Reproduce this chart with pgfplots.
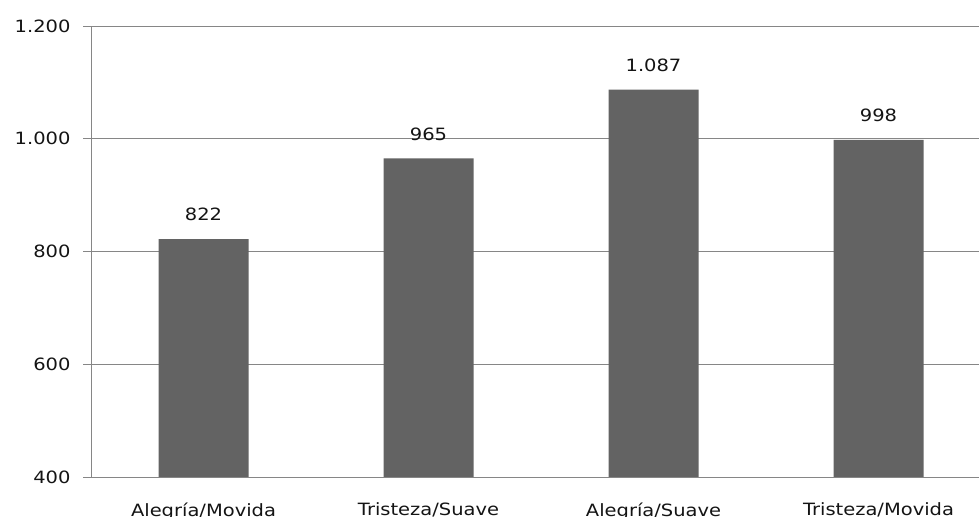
\documentclass[border=0pt]{standalone}
\usepackage{fontspec}
\setmainfont{DejaVu Sans}[FakeStretch=1.15]
\usepackage{pgfplots}
\pgfplotsset{compat=1.18}
\definecolor{barc}{RGB}{99,99,99}
\definecolor{gridc}{RGB}{134,134,134}
\definecolor{textc}{RGB}{20,20,20}
\begin{document}
\begin{tikzpicture}[x=1bp,y=1bp]
\useasboundingbox (0,0) rectangle (979,517);
\begin{axis}[
  at={(91bp,40bp)}, anchor=south west,
  scale only axis, width=900bp, height=451bp,
  xmin=0, xmax=4, ymin=400, ymax=1200,
  axis x line*=bottom, axis y line*=left,
  axis line style={gridc, line width=0.8bp},
  ytick={400,600,800,1000,1200},
  ymajorgrids, grid style={gridc, line width=0.8bp},
  xtick={0.5,1.5,2.5,3.5},
  xticklabels={Alegría/Movida,Tristeza/Suave,Alegría/Suave,Tristeza/Movida},
  minor xtick={0,1,2,3,4},
  tick align=outside,
  major tick length=8bp, minor tick length=7bp,
  xtick style={draw=none},
  minor x tick style={gridc, line width=0.8bp},
  ytick style={gridc, line width=0.8bp},
  font=\fontsize{17}{20}\selectfont,
  ticklabel style={font=\fontsize{17}{20}\selectfont, text=textc},
  /pgf/number format/.cd, 1000 sep={.}, assume math mode=true,
  /pgfplots/.cd,
  yticklabel style={anchor=east, xshift=-9bp},
  xticklabel style={anchor=north, yshift=-14bp},
  nodes near coords,
  every node near coord/.append style={anchor=south, inner sep=0pt, yshift=18bp, text=textc, font=\fontsize{17}{20}\selectfont},
]
\addplot[ybar, bar width=90bp, fill=barc, draw=none] coordinates {(0.5,822) (1.5,965) (2.5,1087) (3.5,998)};
\end{axis}
\end{tikzpicture}
\end{document}
